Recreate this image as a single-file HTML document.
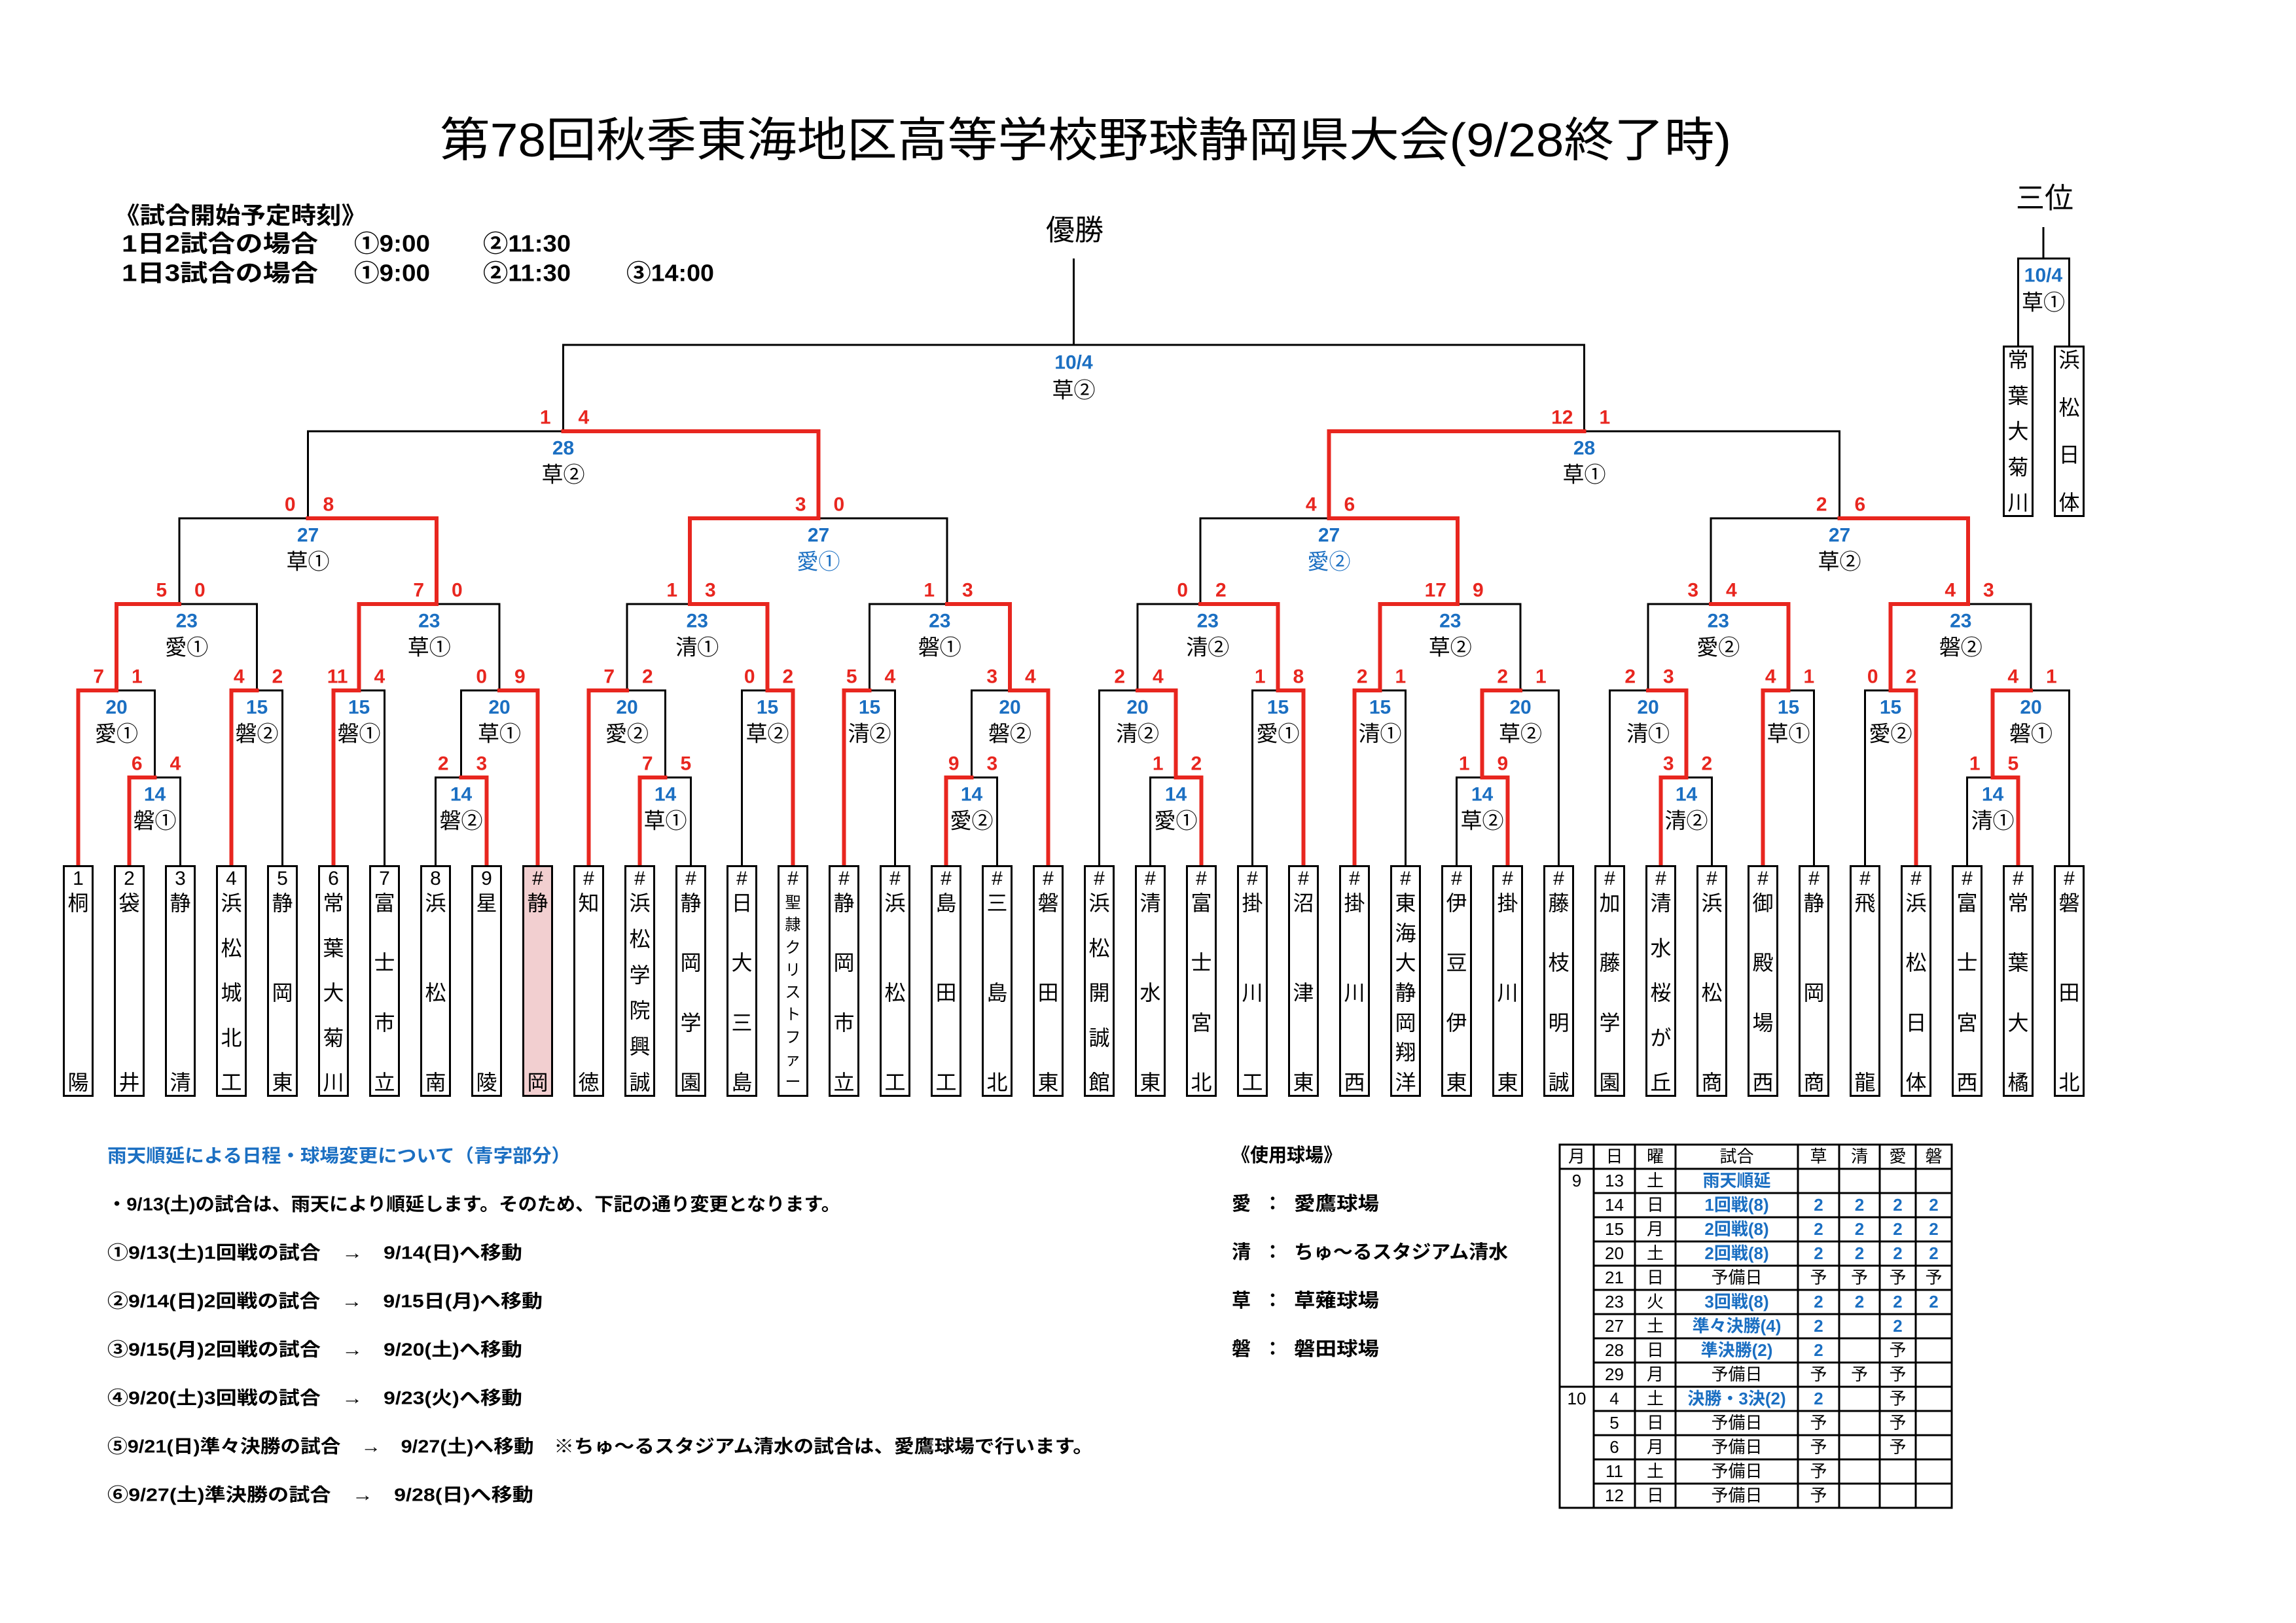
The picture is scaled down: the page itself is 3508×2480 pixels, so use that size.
<!DOCTYPE html>
<html><head><meta charset="utf-8">
<style>
html,body{margin:0;padding:0;background:#fff;}
#pg{position:relative;width:3508px;height:2480px;overflow:hidden;background:#fff;font-family:"Liberation Sans","Noto Sans CJK JP",sans-serif;}
svg{position:absolute;left:0;top:0;}
text{font-family:"Liberation Sans","Noto Sans CJK JP",sans-serif;dominant-baseline:central;}
.sl{font-size:30px;font-weight:bold;fill:#e8261f;text-anchor:end;}
.sr{font-size:30px;font-weight:bold;fill:#e8261f;text-anchor:start;}
.d{font-size:30px;font-weight:bold;fill:#1b6fc2;text-anchor:middle;}
.v{font-size:33px;fill:#000;text-anchor:middle;}
.vb{font-size:33px;fill:#1b6fc2;text-anchor:middle;}
.bk{fill:none;stroke:#000;stroke-width:3;}
.rd{fill:none;stroke:#e8261f;stroke-width:6;stroke-linecap:square;}
.hd{font-size:36px;font-weight:bold;}
.nt{font-size:28px;font-weight:bold;}
.tb{font-size:26px;text-anchor:middle;}
.tbb{font-size:26px;text-anchor:middle;fill:#1b6fc2;font-weight:bold;}
.b{position:absolute;top:1322px;width:47px;height:354px;border:3px solid #000;box-sizing:border-box;background:#fff;display:flex;flex-direction:column;align-items:center;font-size:32px;color:#000;}
.b i{font-style:normal;height:36px;line-height:36px;font-size:30px;}
.b p{margin:0;flex:1;display:flex;flex-direction:column;justify-content:space-between;align-items:center;}
.b span{line-height:38px;height:38px;}
.b.sm p span{font-size:24px;line-height:30px;height:30px;}
.b.sm p{padding:4px 0;}
.t{position:absolute;top:528px;width:47px;height:262px;border:3px solid #000;box-sizing:border-box;background:#fff;display:flex;flex-direction:column;justify-content:space-between;align-items:center;font-size:32px;}
.t span{line-height:38px;height:38px;}
</style></head><body><div id="pg">
<svg width="3508" height="2480" viewBox="0 0 3508 2480">
<text x="672" y="215" font-size="72" textLength="1973" lengthAdjust="spacingAndGlyphs">第78回秋季東海地区高等学校野球静岡県大会(9/28終了時)</text>
<text x="1642" y="352" font-size="44" text-anchor="middle">優勝</text>
<text x="3124" y="303" font-size="44" text-anchor="middle">三位</text>
<text class="hd" x="175" y="329" textLength="385" lengthAdjust="spacingAndGlyphs">《試合開始予定時刻》</text>
<text class="hd" x="186" y="372" textLength="300" lengthAdjust="spacingAndGlyphs">1日2試合の場合</text>
<text class="hd" x="541" y="372" textLength="116" lengthAdjust="spacingAndGlyphs">①9:00</text>
<text class="hd" x="738" y="372" textLength="134" lengthAdjust="spacingAndGlyphs">②11:30</text>
<text class="hd" x="186" y="417" textLength="300" lengthAdjust="spacingAndGlyphs">1日3試合の場合</text>
<text class="hd" x="541" y="417" textLength="116" lengthAdjust="spacingAndGlyphs">①9:00</text>
<text class="hd" x="738" y="417" textLength="134" lengthAdjust="spacingAndGlyphs">②11:30</text>
<text class="hd" x="957" y="417" textLength="134" lengthAdjust="spacingAndGlyphs">③14:00</text>

<path class="bk" d="M197.5 1322V1188H275.5V1322M665.5 1322V1188H743.5V1322M977.5 1322V1188H1055.5V1322M1445.5 1322V1188H1523.5V1322M1757.5 1322V1188H1835.5V1322M2225.5 1322V1188H2303.5V1322M2537.5 1322V1188H2615.5V1322M3005.5 1322V1188H3083.5V1322"/>
<path class="bk" d="M119.5 1322V1055H236.5V1188M353.5 1322V1055H431.5V1322M509.5 1322V1055H587.5V1322M704.5 1188V1055H821.5V1322M899.5 1322V1055H1016.5V1188M1133.5 1322V1055H1211.5V1322M1289.5 1322V1055H1367.5V1322M1484.5 1188V1055H1601.5V1322M1679.5 1322V1055H1796.5V1188M1913.5 1322V1055H1991.5V1322M2069.5 1322V1055H2147.5V1322M2264.5 1188V1055H2381.5V1322M2459.5 1322V1055H2576.5V1188M2693.5 1322V1055H2771.5V1322M2849.5 1322V1055H2927.5V1322M3044.5 1188V1055H3161.5V1322"/>
<path class="bk" d="M178 1055V923H392.5V1055M548.5 1055V923H763V1055M958 1055V923H1172.5V1055M1328.5 1055V923H1543V1055M1738 1055V923H1952.5V1055M2108.5 1055V923H2323V1055M2518 1055V923H2732.5V1055M2888.5 1055V923H3103V1055"/>
<path class="bk" d="M274 923V792H667V923M1054 923V792H1447V923M1834 923V792H2227V923M2614 923V792H3007V923"/>
<path class="bk" d="M470.5 792V659H1250.5V792M2030.5 792V659H2810.5V792M860.5 659V527H2420.5V659M1640.5 395V527"/>
<path class="bk" d="M3122 347V395M3083.5 528V395H3161.5V528"/>

<path class="rd" d="M197.5 1322V1188H236.5M743.5 1322V1188H704.5M977.5 1322V1188H1016.5M1445.5 1322V1188H1484.5M1835.5 1322V1188H1796.5M2303.5 1322V1188H2264.5M2537.5 1322V1188H2576.5M3083.5 1322V1188H3044.5"/>
<path class="rd" d="M119.5 1322V1055H178M353.5 1322V1055H392.5M509.5 1322V1055H548.5M821.5 1322V1055H763M899.5 1322V1055H958M1211.5 1322V1055H1172.5M1289.5 1322V1055H1328.5M1601.5 1322V1055H1543M1796.5 1188V1055H1738M1991.5 1322V1055H1952.5M2069.5 1322V1055H2108.5M2264.5 1188V1055H2323M2576.5 1188V1055H2518M2693.5 1322V1055H2732.5M2927.5 1322V1055H2888.5M3044.5 1188V1055H3103"/>
<path class="rd" d="M178 1055V923H274M548.5 1055V923H667M1172.5 1055V923H1054M1543 1055V923H1447M1952.5 1055V923H1834M2108.5 1055V923H2227M2732.5 1055V923H2614M2888.5 1055V923H3007"/>
<path class="rd" d="M667 923V792H470.5M1054 923V792H1250.5M2227 923V792H2030.5M3007 923V792H2810.5"/>
<path class="rd" d="M1250.5 792V659H860.5M2030.5 792V659H2420.5"/>

<text class="sl" x="217.5" y="1167">6</text><text class="sr" x="259.5" y="1167">4</text><text class="d" x="236.5" y="1214">14</text><text class="v" x="236.5" y="1254">磐①</text>
<text class="sl" x="685.5" y="1167">2</text><text class="sr" x="727.5" y="1167">3</text><text class="d" x="704.5" y="1214">14</text><text class="v" x="704.5" y="1254">磐②</text>
<text class="sl" x="997.5" y="1167">7</text><text class="sr" x="1039.5" y="1167">5</text><text class="d" x="1016.5" y="1214">14</text><text class="v" x="1016.5" y="1254">草①</text>
<text class="sl" x="1465.5" y="1167">9</text><text class="sr" x="1507.5" y="1167">3</text><text class="d" x="1484.5" y="1214">14</text><text class="v" x="1484.5" y="1254">愛②</text>
<text class="sl" x="1777.5" y="1167">1</text><text class="sr" x="1819.5" y="1167">2</text><text class="d" x="1796.5" y="1214">14</text><text class="v" x="1796.5" y="1254">愛①</text>
<text class="sl" x="2245.5" y="1167">1</text><text class="sr" x="2287.5" y="1167">9</text><text class="d" x="2264.5" y="1214">14</text><text class="v" x="2264.5" y="1254">草②</text>
<text class="sl" x="2557.5" y="1167">3</text><text class="sr" x="2599.5" y="1167">2</text><text class="d" x="2576.5" y="1214">14</text><text class="v" x="2576.5" y="1254">清②</text>
<text class="sl" x="3025.5" y="1167">1</text><text class="sr" x="3067.5" y="1167">5</text><text class="d" x="3044.5" y="1214">14</text><text class="v" x="3044.5" y="1254">清①</text>

<text class="sl" x="159" y="1034">7</text><text class="sr" x="201" y="1034">1</text><text class="d" x="178" y="1081">20</text><text class="v" x="178" y="1121">愛①</text>
<text class="sl" x="373.5" y="1034">4</text><text class="sr" x="415.5" y="1034">2</text><text class="d" x="392.5" y="1081">15</text><text class="v" x="392.5" y="1121">磐②</text>
<text class="sl" x="531.5" y="1034">11</text><text class="sr" x="571.5" y="1034">4</text><text class="d" x="548.5" y="1081">15</text><text class="v" x="548.5" y="1121">磐①</text>
<text class="sl" x="744" y="1034">0</text><text class="sr" x="786" y="1034">9</text><text class="d" x="763" y="1081">20</text><text class="v" x="763" y="1121">草①</text>
<text class="sl" x="939" y="1034">7</text><text class="sr" x="981" y="1034">2</text><text class="d" x="958" y="1081">20</text><text class="v" x="958" y="1121">愛②</text>
<text class="sl" x="1153.5" y="1034">0</text><text class="sr" x="1195.5" y="1034">2</text><text class="d" x="1172.5" y="1081">15</text><text class="v" x="1172.5" y="1121">草②</text>
<text class="sl" x="1309.5" y="1034">5</text><text class="sr" x="1351.5" y="1034">4</text><text class="d" x="1328.5" y="1081">15</text><text class="v" x="1328.5" y="1121">清②</text>
<text class="sl" x="1524" y="1034">3</text><text class="sr" x="1566" y="1034">4</text><text class="d" x="1543" y="1081">20</text><text class="v" x="1543" y="1121">磐②</text>
<text class="sl" x="1719" y="1034">2</text><text class="sr" x="1761" y="1034">4</text><text class="d" x="1738" y="1081">20</text><text class="v" x="1738" y="1121">清②</text>
<text class="sl" x="1933.5" y="1034">1</text><text class="sr" x="1975.5" y="1034">8</text><text class="d" x="1952.5" y="1081">15</text><text class="v" x="1952.5" y="1121">愛①</text>
<text class="sl" x="2089.5" y="1034">2</text><text class="sr" x="2131.5" y="1034">1</text><text class="d" x="2108.5" y="1081">15</text><text class="v" x="2108.5" y="1121">清①</text>
<text class="sl" x="2304" y="1034">2</text><text class="sr" x="2346" y="1034">1</text><text class="d" x="2323" y="1081">20</text><text class="v" x="2323" y="1121">草②</text>
<text class="sl" x="2499" y="1034">2</text><text class="sr" x="2541" y="1034">3</text><text class="d" x="2518" y="1081">20</text><text class="v" x="2518" y="1121">清①</text>
<text class="sl" x="2713.5" y="1034">4</text><text class="sr" x="2755.5" y="1034">1</text><text class="d" x="2732.5" y="1081">15</text><text class="v" x="2732.5" y="1121">草①</text>
<text class="sl" x="2869.5" y="1034">0</text><text class="sr" x="2911.5" y="1034">2</text><text class="d" x="2888.5" y="1081">15</text><text class="v" x="2888.5" y="1121">愛②</text>
<text class="sl" x="3084" y="1034">4</text><text class="sr" x="3126" y="1034">1</text><text class="d" x="3103" y="1081">20</text><text class="v" x="3103" y="1121">磐①</text>

<text class="sl" x="255" y="902">5</text><text class="sr" x="297" y="902">0</text><text class="d" x="285.25" y="949">23</text><text class="v" x="285.25" y="989">愛①</text>
<text class="sl" x="648" y="902">7</text><text class="sr" x="690" y="902">0</text><text class="d" x="655.75" y="949">23</text><text class="v" x="655.75" y="989">草①</text>
<text class="sl" x="1035" y="902">1</text><text class="sr" x="1077" y="902">3</text><text class="d" x="1065.25" y="949">23</text><text class="v" x="1065.25" y="989">清①</text>
<text class="sl" x="1428" y="902">1</text><text class="sr" x="1470" y="902">3</text><text class="d" x="1435.75" y="949">23</text><text class="v" x="1435.75" y="989">磐①</text>
<text class="sl" x="1815" y="902">0</text><text class="sr" x="1857" y="902">2</text><text class="d" x="1845.25" y="949">23</text><text class="v" x="1845.25" y="989">清②</text>
<text class="sl" x="2210" y="902">17</text><text class="sr" x="2250" y="902">9</text><text class="d" x="2215.75" y="949">23</text><text class="v" x="2215.75" y="989">草②</text>
<text class="sl" x="2595" y="902">3</text><text class="sr" x="2637" y="902">4</text><text class="d" x="2625.25" y="949">23</text><text class="v" x="2625.25" y="989">愛②</text>
<text class="sl" x="2988" y="902">4</text><text class="sr" x="3030" y="902">3</text><text class="d" x="2995.75" y="949">23</text><text class="v" x="2995.75" y="989">磐②</text>

<text class="sl" x="451.5" y="771">0</text><text class="sr" x="493.5" y="771">8</text><text class="d" x="470.5" y="818">27</text><text class="v" x="470.5" y="858">草①</text>
<text class="sl" x="1231.5" y="771">3</text><text class="sr" x="1273.5" y="771">0</text><text class="d" x="1250.5" y="818">27</text><text class="vb" x="1250.5" y="858">愛①</text>
<text class="sl" x="2011.5" y="771">4</text><text class="sr" x="2053.5" y="771">6</text><text class="d" x="2030.5" y="818">27</text><text class="vb" x="2030.5" y="858">愛②</text>
<text class="sl" x="2791.5" y="771">2</text><text class="sr" x="2833.5" y="771">6</text><text class="d" x="2810.5" y="818">27</text><text class="v" x="2810.5" y="858">草②</text>

<text class="sl" x="841.5" y="638">1</text><text class="sr" x="883.5" y="638">4</text><text class="d" x="860.5" y="685">28</text><text class="v" x="860.5" y="725">草②</text>
<text class="sl" x="2403.5" y="638">12</text><text class="sr" x="2443.5" y="638">1</text><text class="d" x="2420.5" y="685">28</text><text class="v" x="2420.5" y="725">草①</text>

<text class="d" x="1640.5" y="554">10/4</text><text class="v" x="1640.5" y="596">草②</text>
<text class="d" x="3122" y="421" font-size="26">10/4</text><text class="v" x="3122" y="462">草①</text>

<text x="164" y="1766" font-size="28" font-weight="bold" fill="#1b6fc2" textLength="708" lengthAdjust="spacingAndGlyphs">雨天順延による日程・球場変更について（青字部分）</text>
<text class="nt" x="164" y="1840" textLength="1120" lengthAdjust="spacingAndGlyphs">・9/13(土)の試合は、雨天により順延します。そのため、下記の通り変更となります。</text>
<text class="nt" x="164" y="1914" textLength="634" lengthAdjust="spacingAndGlyphs">①9/13(土)1回戦の試合　→　9/14(日)へ移動</text>
<text class="nt" x="164" y="1988" textLength="665" lengthAdjust="spacingAndGlyphs">②9/14(日)2回戦の試合　→　9/15日(月)へ移動</text>
<text class="nt" x="164" y="2062" textLength="634" lengthAdjust="spacingAndGlyphs">③9/15(月)2回戦の試合　→　9/20(土)へ移動</text>
<text class="nt" x="164" y="2136" textLength="634" lengthAdjust="spacingAndGlyphs">④9/20(土)3回戦の試合　→　9/23(火)へ移動</text>
<text class="nt" x="164" y="2210" textLength="1506" lengthAdjust="spacingAndGlyphs">⑤9/21(日)準々決勝の試合　→　9/27(土)へ移動　※ちゅ～るスタジアム清水の試合は、愛鷹球場で行います。</text>
<text class="nt" x="164" y="2284" textLength="651" lengthAdjust="spacingAndGlyphs">⑥9/27(土)準決勝の試合　→　9/28(日)へ移動</text>

<g font-size="29" font-weight="bold">
<text x="1882" y="1766" textLength="168" lengthAdjust="spacingAndGlyphs">《使用球場》</text>
<text x="1882" y="1840">愛</text><text x="1930" y="1840">：</text><text x="1977" y="1840" textLength="130" lengthAdjust="spacingAndGlyphs">愛鷹球場</text>
<text x="1882" y="1914">清</text><text x="1930" y="1914">：</text><text x="1977" y="1914" textLength="327" lengthAdjust="spacingAndGlyphs">ちゅ～るスタジアム清水</text>
<text x="1882" y="1988">草</text><text x="1930" y="1988">：</text><text x="1977" y="1988" textLength="130" lengthAdjust="spacingAndGlyphs">草薙球場</text>
<text x="1882" y="2062">磐</text><text x="1930" y="2062">：</text><text x="1977" y="2062" textLength="130" lengthAdjust="spacingAndGlyphs">磐田球場</text>
</g>

<g fill="none" stroke="#000" stroke-width="3">
<rect x="2383" y="1749" width="599" height="555"/>
<path d="M2435 1749V2304M2498 1749V2304M2560 1749V2304M2747 1749V2304M2810 1749V2304M2872 1749V2304M2927 1749V2304"/>
<path d="M2383 1786H2982M2383 2119H2982M2435 1823H2982M2435 1860H2982M2435 1897H2982M2435 1934H2982M2435 1971H2982M2435 2008H2982M2435 2045H2982M2435 2082H2982M2435 2156H2982M2435 2193H2982M2435 2230H2982M2435 2267H2982"/>
</g>
<g>
<text class="tb" x="2409" y="1767">月</text><text class="tb" x="2466.5" y="1767">日</text><text class="tb" x="2529" y="1767">曜</text><text class="tb" x="2653.5" y="1767">試合</text><text class="tb" x="2778.5" y="1767">草</text><text class="tb" x="2841" y="1767">清</text><text class="tb" x="2899.5" y="1767">愛</text><text class="tb" x="2954.5" y="1767">磐</text>
<text class="tb" x="2409" y="1804">9</text><text class="tb" x="2409" y="2137">10</text>
<text class="tb" x="2466.5" y="1804">13</text><text class="tb" x="2529" y="1804">土</text><text class="tbb" x="2653.5" y="1804">雨天順延</text>
<text class="tb" x="2466.5" y="1841">14</text><text class="tb" x="2529" y="1841">日</text><text class="tbb" x="2653.5" y="1841">1回戦(8)</text><text class="tbb" x="2778.5" y="1841">2</text><text class="tbb" x="2841" y="1841">2</text><text class="tbb" x="2899.5" y="1841">2</text><text class="tbb" x="2954.5" y="1841">2</text>
<text class="tb" x="2466.5" y="1878">15</text><text class="tb" x="2529" y="1878">月</text><text class="tbb" x="2653.5" y="1878">2回戦(8)</text><text class="tbb" x="2778.5" y="1878">2</text><text class="tbb" x="2841" y="1878">2</text><text class="tbb" x="2899.5" y="1878">2</text><text class="tbb" x="2954.5" y="1878">2</text>
<text class="tb" x="2466.5" y="1915">20</text><text class="tb" x="2529" y="1915">土</text><text class="tbb" x="2653.5" y="1915">2回戦(8)</text><text class="tbb" x="2778.5" y="1915">2</text><text class="tbb" x="2841" y="1915">2</text><text class="tbb" x="2899.5" y="1915">2</text><text class="tbb" x="2954.5" y="1915">2</text>
<text class="tb" x="2466.5" y="1952">21</text><text class="tb" x="2529" y="1952">日</text><text class="tb" x="2653.5" y="1952">予備日</text><text class="tb" x="2778.5" y="1952">予</text><text class="tb" x="2841" y="1952">予</text><text class="tb" x="2899.5" y="1952">予</text><text class="tb" x="2954.5" y="1952">予</text>
<text class="tb" x="2466.5" y="1989">23</text><text class="tb" x="2529" y="1989">火</text><text class="tbb" x="2653.5" y="1989">3回戦(8)</text><text class="tbb" x="2778.5" y="1989">2</text><text class="tbb" x="2841" y="1989">2</text><text class="tbb" x="2899.5" y="1989">2</text><text class="tbb" x="2954.5" y="1989">2</text>
<text class="tb" x="2466.5" y="2026">27</text><text class="tb" x="2529" y="2026">土</text><text class="tbb" x="2653.5" y="2026">準々決勝(4)</text><text class="tbb" x="2778.5" y="2026">2</text><text class="tbb" x="2899.5" y="2026">2</text>
<text class="tb" x="2466.5" y="2063">28</text><text class="tb" x="2529" y="2063">日</text><text class="tbb" x="2653.5" y="2063">準決勝(2)</text><text class="tbb" x="2778.5" y="2063">2</text><text class="tb" x="2899.5" y="2063">予</text>
<text class="tb" x="2466.5" y="2100">29</text><text class="tb" x="2529" y="2100">月</text><text class="tb" x="2653.5" y="2100">予備日</text><text class="tb" x="2778.5" y="2100">予</text><text class="tb" x="2841" y="2100">予</text><text class="tb" x="2899.5" y="2100">予</text>
<text class="tb" x="2466.5" y="2137">4</text><text class="tb" x="2529" y="2137">土</text><text class="tbb" x="2653.5" y="2137">決勝・3決(2)</text><text class="tbb" x="2778.5" y="2137">2</text><text class="tb" x="2899.5" y="2137">予</text>
<text class="tb" x="2466.5" y="2174">5</text><text class="tb" x="2529" y="2174">日</text><text class="tb" x="2653.5" y="2174">予備日</text><text class="tb" x="2778.5" y="2174">予</text><text class="tb" x="2899.5" y="2174">予</text>
<text class="tb" x="2466.5" y="2211">6</text><text class="tb" x="2529" y="2211">月</text><text class="tb" x="2653.5" y="2211">予備日</text><text class="tb" x="2778.5" y="2211">予</text><text class="tb" x="2899.5" y="2211">予</text>
<text class="tb" x="2466.5" y="2248">11</text><text class="tb" x="2529" y="2248">土</text><text class="tb" x="2653.5" y="2248">予備日</text><text class="tb" x="2778.5" y="2248">予</text>
<text class="tb" x="2466.5" y="2285">12</text><text class="tb" x="2529" y="2285">日</text><text class="tb" x="2653.5" y="2285">予備日</text><text class="tb" x="2778.5" y="2285">予</text>
</g>
</svg>

<div class="b" style="left:96px"><i>1</i><p><span>桐</span><span>陽</span></p></div>
<div class="b" style="left:174px"><i>2</i><p><span>袋</span><span>井</span></p></div>
<div class="b" style="left:252px"><i>3</i><p><span>静</span><span>清</span></p></div>
<div class="b" style="left:330px"><i>4</i><p><span>浜</span><span>松</span><span>城</span><span>北</span><span>工</span></p></div>
<div class="b" style="left:408px"><i>5</i><p><span>静</span><span>岡</span><span>東</span></p></div>
<div class="b" style="left:486px"><i>6</i><p><span>常</span><span>葉</span><span>大</span><span>菊</span><span>川</span></p></div>
<div class="b" style="left:564px"><i>7</i><p><span>富</span><span>士</span><span>市</span><span>立</span></p></div>
<div class="b" style="left:642px"><i>8</i><p><span>浜</span><span>松</span><span>南</span></p></div>
<div class="b" style="left:720px"><i>9</i><p><span>星</span><span>陵</span></p></div>
<div class="b" style="left:798px;background:#f2cfd0"><i>#</i><p><span>静</span><span>岡</span></p></div>
<div class="b" style="left:876px"><i>#</i><p><span>知</span><span>徳</span></p></div>
<div class="b" style="left:954px"><i>#</i><p><span>浜</span><span>松</span><span>学</span><span>院</span><span>興</span><span>誠</span></p></div>
<div class="b" style="left:1032px"><i>#</i><p><span>静</span><span>岡</span><span>学</span><span>園</span></p></div>
<div class="b" style="left:1110px"><i>#</i><p><span>日</span><span>大</span><span>三</span><span>島</span></p></div>
<div class="b sm" style="left:1188px"><i>#</i><p><span>聖</span><span>隷</span><span>ク</span><span>リ</span><span>ス</span><span>ト</span><span>フ</span><span>ァ</span><span>ー</span></p></div>
<div class="b" style="left:1266px"><i>#</i><p><span>静</span><span>岡</span><span>市</span><span>立</span></p></div>
<div class="b" style="left:1344px"><i>#</i><p><span>浜</span><span>松</span><span>工</span></p></div>
<div class="b" style="left:1422px"><i>#</i><p><span>島</span><span>田</span><span>工</span></p></div>
<div class="b" style="left:1500px"><i>#</i><p><span>三</span><span>島</span><span>北</span></p></div>
<div class="b" style="left:1578px"><i>#</i><p><span>磐</span><span>田</span><span>東</span></p></div>
<div class="b" style="left:1656px"><i>#</i><p><span>浜</span><span>松</span><span>開</span><span>誠</span><span>館</span></p></div>
<div class="b" style="left:1734px"><i>#</i><p><span>清</span><span>水</span><span>東</span></p></div>
<div class="b" style="left:1812px"><i>#</i><p><span>富</span><span>士</span><span>宮</span><span>北</span></p></div>
<div class="b" style="left:1890px"><i>#</i><p><span>掛</span><span>川</span><span>工</span></p></div>
<div class="b" style="left:1968px"><i>#</i><p><span>沼</span><span>津</span><span>東</span></p></div>
<div class="b" style="left:2046px"><i>#</i><p><span>掛</span><span>川</span><span>西</span></p></div>
<div class="b" style="left:2124px"><i>#</i><p><span>東</span><span>海</span><span>大</span><span>静</span><span>岡</span><span>翔</span><span>洋</span></p></div>
<div class="b" style="left:2202px"><i>#</i><p><span>伊</span><span>豆</span><span>伊</span><span>東</span></p></div>
<div class="b" style="left:2280px"><i>#</i><p><span>掛</span><span>川</span><span>東</span></p></div>
<div class="b" style="left:2358px"><i>#</i><p><span>藤</span><span>枝</span><span>明</span><span>誠</span></p></div>
<div class="b" style="left:2436px"><i>#</i><p><span>加</span><span>藤</span><span>学</span><span>園</span></p></div>
<div class="b" style="left:2514px"><i>#</i><p><span>清</span><span>水</span><span>桜</span><span>が</span><span>丘</span></p></div>
<div class="b" style="left:2592px"><i>#</i><p><span>浜</span><span>松</span><span>商</span></p></div>
<div class="b" style="left:2670px"><i>#</i><p><span>御</span><span>殿</span><span>場</span><span>西</span></p></div>
<div class="b" style="left:2748px"><i>#</i><p><span>静</span><span>岡</span><span>商</span></p></div>
<div class="b" style="left:2826px"><i>#</i><p><span>飛</span><span>龍</span></p></div>
<div class="b" style="left:2904px"><i>#</i><p><span>浜</span><span>松</span><span>日</span><span>体</span></p></div>
<div class="b" style="left:2982px"><i>#</i><p><span>富</span><span>士</span><span>宮</span><span>西</span></p></div>
<div class="b" style="left:3060px"><i>#</i><p><span>常</span><span>葉</span><span>大</span><span>橘</span></p></div>
<div class="b" style="left:3138px"><i>#</i><p><span>磐</span><span>田</span><span>北</span></p></div>

<div class="t" style="left:3060px"><span>常</span><span>葉</span><span>大</span><span>菊</span><span>川</span></div>
<div class="t" style="left:3138px"><span>浜</span><span>松</span><span>日</span><span>体</span></div>
</div></body></html>
